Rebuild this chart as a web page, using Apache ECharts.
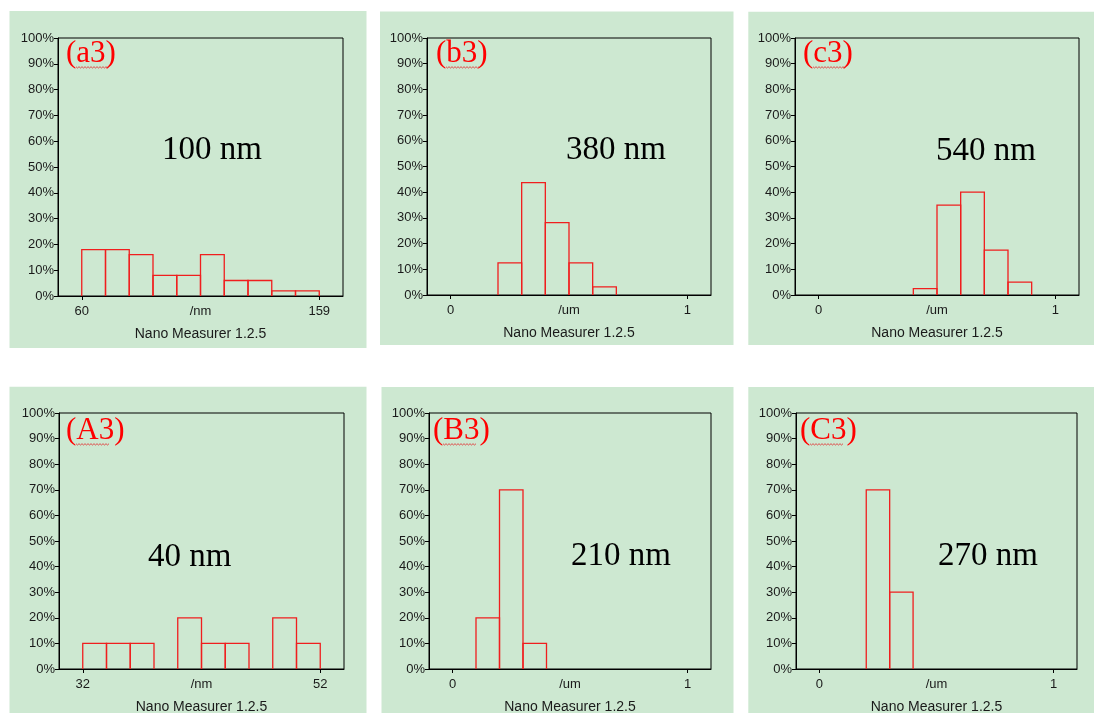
<!DOCTYPE html>
<html>
<head>
<meta charset="utf-8">
<style>
  html, body { margin: 0; padding: 0; background: #ffffff; }
  #chart { width: 1094px; height: 713px; }
</style>
<script src="https://cdn.jsdelivr.net/npm/echarts@6/dist/echarts.min.js"></script>
</head>
<body>
<div id="chart"></div>
<script>
// ---------------- data ----------------
const a3Edges  = [60, 69.9, 79.8, 89.7, 99.6, 109.5, 119.4, 129.3, 139.2, 149.1, 159];
const a3Values = [18, 18, 16, 8, 8, 16, 6, 6, 2, 2];
const b3Edges  = [0.2, 0.3, 0.4, 0.5, 0.6, 0.7];
const b3Values = [12.5, 43.75, 28.125, 12.5, 3.125];
const c3Edges  = [0.4, 0.5, 0.6, 0.7, 0.8, 0.9];
const c3Values = [2.5, 35, 40, 17.5, 5];
const A3Edges  = [32, 34, 36, 38, 40, 42, 44, 46, 48, 50, 52];
const A3Values = [10, 10, 10, 0, 20, 10, 10, 0, 20, 10];
const B3Edges  = [0.1, 0.2, 0.3, 0.4];
const B3Values = [20, 70, 10];
const C3Edges  = [0.2, 0.3, 0.4];
const C3Values = [70, 30];

const a3Ticks = [60, 159];
const b3Ticks = [0, 1];
const c3Ticks = [0, 1];
const A3Ticks = [32, 52];
const B3Ticks = [0, 1];
const C3Ticks = [0, 1];

const xUnits = ['/nm', '/um', '/um', '/nm', '/um', '/um'];
const panelTags = ['(a3)', '(b3)', '(c3)', '(A3)', '(B3)', '(C3)'];
const sizeLabels = ['100 nm', '380 nm', '540 nm', '40 nm', '210 nm', '270 nm'];
const footer = 'Nano Measurer 1.2.5';

// ---------------- layout (positions / styles only) ----------------
const layout = [
  { bg: [9.5, 11, 357, 337], grid: [58, 38, 285, 258], tag: [66, 54], size: [162, 150] },
  { bg: [380, 11.5, 353.5, 333.5], grid: [427, 38, 284, 257], tag: [436, 54], size: [566, 150] },
  { bg: [748.3, 11.7, 346, 333.3], grid: [795, 38, 284, 257], tag: [803, 54], size: [936, 151] },
  { bg: [9.5, 386.7, 357, 330], grid: [59, 413, 285, 256], tag: [66, 431], size: [148, 557] },
  { bg: [381.5, 387, 352, 330], grid: [429, 413, 282, 256], tag: [433, 431], size: [571, 556] },
  { bg: [748.3, 387, 346, 330], grid: [796, 413, 281, 256], tag: [800, 431], size: [938, 556] }
];

const edgesList = [a3Edges, b3Edges, c3Edges, A3Edges, B3Edges, C3Edges];
const valuesList = [a3Values, b3Values, c3Values, A3Values, B3Values, C3Values];
const ticksList = [a3Ticks, b3Ticks, c3Ticks, A3Ticks, B3Ticks, C3Ticks];

const GREEN = '#cde8d1';
const RED = '#f01e1e';
const TXT = '#1a1a1a';
const LABEL_FONT = 'Liberation Sans';

const grids = [], xAxes = [], yAxes = [], series = [], graphics = [];

layout.forEach((L, i) => {
  graphics.push({
    type: 'rect', z: -10, silent: true,
    shape: { x: L.bg[0], y: L.bg[1], width: L.bg[2], height: L.bg[3] },
    style: { fill: GREEN }
  });

  grids.push({
    left: L.grid[0], top: L.grid[1], width: L.grid[2], height: L.grid[3],
    show: true, borderColor: '#000', borderWidth: 1, backgroundColor: 'transparent'
  });

  const t = ticksList[i];
  const span = t[1] - t[0];
  const mid = (t[0] + t[1]) / 2;
  xAxes.push({
    type: 'value', gridIndex: i,
    min: t[0] - 0.1 * span, max: t[1] + 0.1 * span,
    axisLine: { show: true, onZero: false, lineStyle: { color: '#000', width: 1 } },
    axisTick: { show: true, customValues: t, length: 4, lineStyle: { color: '#000' } },
    axisLabel: {
      show: true, customValues: [t[0], mid, t[1]], margin: 9,
      color: TXT, fontFamily: LABEL_FONT, fontSize: 13,
      formatter: (v) => (Math.abs(v - mid) < 1e-9 ? xUnits[i] : String(v))
    },
    splitLine: { show: false }
  });

  yAxes.push({
    type: 'value', gridIndex: i, min: 0, max: 100, interval: 10,
    axisLine: { show: true, onZero: false, lineStyle: { color: '#000', width: 1 } },
    axisTick: { show: true, length: 4, lineStyle: { color: '#000' } },
    axisLabel: { margin: 4, color: TXT, fontFamily: LABEL_FONT, fontSize: 13, formatter: '{value}%' },
    splitLine: { show: false }
  });

  const edges = edgesList[i];
  const vals = valuesList[i];
  const data = vals.map((v, k) => [edges[k], edges[k + 1], v]);
  series.push({
    type: 'custom', xAxisIndex: i, yAxisIndex: i, data: data,
    encode: { x: [0, 1], y: 2 },
    renderItem: function (params, api) {
      const h = api.value(2);
      if (!h) return null;
      const p0 = api.coord([api.value(0), 0]);
      const p1 = api.coord([api.value(0), h]);
      const p2 = api.coord([api.value(1), h]);
      const p3 = api.coord([api.value(1), 0]);
      return {
        type: 'polyline',
        shape: { points: [p0, p1, p2, p3] },
        style: { stroke: RED, lineWidth: 1.3, fill: null }
      };
    }
  });

  graphics.push({
    type: 'text', z: 10, silent: true,
    x: L.tag[0], y: L.tag[1],
    style: { text: panelTags[i], fill: '#ff0000', font: '31px "Liberation Serif"', verticalAlign: 'middle', align: 'left' }
  });
  const wx0 = L.tag[0] + 10, wx1 = L.tag[0] + 44, wy = L.tag[1] + 13;
  const pts = [];
  for (let x = wx0, k = 0; x <= wx1; x += 1.5, k++) pts.push([x, wy + (k % 2 ? 1 : -0.3)]);
  graphics.push({
    type: 'polyline', z: 10, silent: true,
    shape: { points: pts }, style: { stroke: '#e03a3a', lineWidth: 0.9, fill: null }
  });
  graphics.push({
    type: 'text', z: 10, silent: true,
    x: L.size[0], y: L.size[1],
    style: { text: sizeLabels[i], fill: '#000', font: '33px "Liberation Serif"', verticalAlign: 'middle', align: 'left' }
  });
  graphics.push({
    type: 'text', z: 10, silent: true,
    x: L.grid[0] + L.grid[2] / 2, y: L.grid[1] + L.grid[3] + 38,
    style: { text: footer, fill: TXT, font: '14px "Liberation Sans"', verticalAlign: 'middle', align: 'center' }
  });
});

const chart = echarts.init(document.getElementById('chart'), null, { renderer: 'canvas' });
chart.setOption({
  animation: false,
  backgroundColor: '#ffffff',
  grid: grids,
  xAxis: xAxes,
  yAxis: yAxes,
  series: series,
  graphic: { elements: graphics }
});
</script>
</body>
</html>
